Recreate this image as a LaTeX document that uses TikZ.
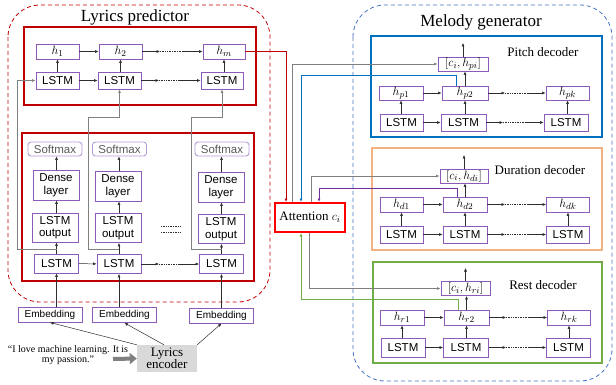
\documentclass[tikz,border=0pt]{standalone}
\usepackage{fontspec}
\setmainfont{Liberation Serif}
\setsansfont{Liberation Sans}
\usetikzlibrary{arrows.meta,calc}
\definecolor{pur}{RGB}{140,90,185}
\definecolor{lpur}{RGB}{180,155,215}
\definecolor{dred}{RGB}{192,0,0}
\definecolor{bblue}{RGB}{0,112,192}
\definecolor{dblue}{RGB}{68,114,196}
\definecolor{oran}{RGB}{244,177,131}
\definecolor{grn}{RGB}{112,173,71}
\definecolor{lgray}{RGB}{128,128,128}
\definecolor{encg}{RGB}{217,217,217}
\definecolor{arrc}{RGB}{45,45,45}
\definecolor{mpur}{RGB}{112,48,160}
\definecolor{smtxt}{RGB}{90,90,90}
\tikzset{
  bx/.style={draw=pur, line width=0.9pt, inner sep=0pt, align=center, font=\sffamily\fontsize{11.5}{12}\selectfont},
  hb/.style={draw=pur, line width=0.9pt, inner sep=0pt, minimum height=15pt, font=\fontsize{12.5}{13}\selectfont},
  smx/.style={draw=lpur, line width=0.9pt, rounded corners=3pt, inner sep=0pt, text=smtxt, minimum width=54pt, minimum height=14pt, font=\sffamily\fontsize{11.5}{12}\selectfont},
  emb/.style={bx, minimum width=64pt, minimum height=15pt, font=\sffamily\fontsize{10}{11}\selectfont},
  tip/.style={-{Latex[length=3.5pt,width=3pt]}},
  ar/.style={arrc, line width=0.5pt, tip},
  gl/.style={lgray, line width=0.8pt, tip},
  dts/.style={arrc, densely dotted, line width=0.7pt},
  ttl/.style={font=\fontsize{13}{14}\selectfont},
  grp/.style={line width=0.8pt, dash pattern=on 4pt off 3pt, rounded corners=32pt},
}
\begin{document}
\begin{tikzpicture}[x=1pt,y=-1pt]
\useasboundingbox (0,0) rectangle (616,385);

% ===== Lyrics predictor =====
\draw[grp, dred] (8,5) rectangle (270,302);
\node[font=\fontsize{17}{18}\selectfont] (lpt) at (135,17) {Lyrics predictor};
\node[draw=dred, line width=2pt, minimum width=232pt, minimum height=78pt, inner sep=0pt] (upbox) at (140,66) {};
\node[draw=dred, line width=2pt, minimum width=232pt, minimum height=148pt, inner sep=0pt] (lowbox) at (138,207) {};

% top row
\node[hb, minimum width=43pt] (h1) at (57.5,51.5) {$h_1$};
\node[hb, minimum width=43pt] (h2) at (120.5,51.5) {$h_2$};
\node[hb, minimum width=42pt] (hm) at (224,51.5) {$h_m$};
\node[bx, minimum width=43pt, minimum height=17pt] (t1) at (57.5,80.5) {LSTM};
\node[bx, minimum width=43pt, minimum height=17pt] (t2) at (119.5,80.5) {LSTM};
\node[bx, minimum width=42pt, minimum height=17pt] (t3) at (222,80.5) {LSTM};
\draw[ar] (t1) -- (h1);
\draw[ar] (t2.north -| h2) -- (h2);
\draw[ar] (t3.north -| hm) -- (hm);
\draw[ar] (h1) -- (h2);
\coordinate (hd1) at (160,51.5); \coordinate (hd2) at (182,51.5);
\draw[ar] (h2.east) -- (hd1); \draw[dts] (hd1) -- (hd2); \draw[ar] (hd2) -- (hm.west);
\draw[ar] (t1) -- (t2);
\coordinate (td1) at (159,80.5); \coordinate (td2) at (180,80.5);
\draw[ar] (t2.east) -- (td1); \draw[dts] (td1) -- (td2); \draw[ar] (td2) -- (t3.west);

% lower columns
\node[smx] (s1) at (55,149) {Softmax};
\node[smx] (s2) at (119.5,149) {Softmax};
\node[smx] (s3) at (222,149) {Softmax};
\node[bx, minimum width=46pt, minimum height=30pt, font=\sffamily\fontsize{11.5}{12.5}\selectfont] (d1) at (56,185) {Dense\\layer};
\node[bx, minimum width=46pt, minimum height=30pt, font=\sffamily\fontsize{11.5}{12.5}\selectfont] (d2) at (118,186) {Dense\\layer};
\node[bx, minimum width=46pt, minimum height=30pt, font=\sffamily\fontsize{11.5}{12.5}\selectfont] (d3) at (221,187) {Dense\\layer};
\node[bx, minimum width=46pt, minimum height=29pt, font=\sffamily\fontsize{11.5}{12.5}\selectfont] (o1) at (55,227.5) {LSTM\\output};
\node[bx, minimum width=46pt, minimum height=29pt, font=\sffamily\fontsize{11.5}{12.5}\selectfont] (o2) at (118,228) {LSTM\\output};
\node[bx, minimum width=46pt, minimum height=29pt, font=\sffamily\fontsize{11.5}{12.5}\selectfont] (o3) at (221,229) {LSTM\\output};
\node[bx, minimum width=44pt, minimum height=19pt] (b1) at (56.5,263.5) {LSTM};
\node[bx, minimum width=44pt, minimum height=19pt] (b2) at (119,264) {LSTM};
\node[bx, minimum width=44pt, minimum height=19pt] (b3) at (221.5,264) {LSTM};
\foreach \i in {1,2,3}{
  \draw[ar] (b\i.north) -- (b\i.north |- o\i.south);
  \draw[ar] (o\i.north -| b\i) -- (b\i |- d\i.south);
  \draw[ar] (d\i.north -| b\i) -- (b\i |- s\i.south);
}
\draw[ar] (b1) -- (b2);
\coordinate (bd1) at (159,264); \coordinate (bd2) at (180,264);
\draw[ar] (b2.east) -- (bd1); \draw[dts] (bd1) -- (bd2); \draw[ar] (bd2) -- (b3.west);
\draw[dts] (161,226) -- (180,226);
\draw[dts] (161,232) -- (180,232);

% branches to upper LSTMs
\coordinate (j1) at (56.5,249); \coordinate (j2) at (119,249); \coordinate (j3) at (221.5,249);
\draw[gl] (j1) -| (17,80.5) -- (t1.west);
\draw[gl] (j2) -| (88,117) -| (t2.south);
\draw[gl] (j3) -| (191,117) -| (t3.south);

% embeddings and encoder
\node[emb] (e1) at (50,314.5) {Embedding};
\node[emb] (e2) at (124.5,315) {Embedding};
\node[emb] (e3) at (221.5,315.5) {Embedding};
\foreach \i in {1,2,3}{ \draw[ar] (e\i.north -| b\i) -- (b\i.south); }
\node[fill=encg, minimum width=60pt, minimum height=27pt, inner sep=0pt, align=center, font=\fontsize{13}{12}\selectfont] (enc) at (167,358.5) {Lyrics\\encoder};
\draw[ar] (enc.north west) -- (e1.south);
\draw[ar] ($(enc.north west)!0.45!(enc.north east)$) -- (e2.south);
\draw[ar] (enc.north east) -- (e3.south);
\node[align=center, font=\fontsize{10}{9.5}\selectfont] (q) at (68,355) {“I love machine learning. It is\\my passion.”};
\coordinate (qa) at (113,359);
\draw[lgray, line width=4pt, -{Triangle[length=7pt,width=11pt]}] (qa) -- (enc.west);

% ===== Attention =====
\node[draw=red, line width=2pt, minimum width=70pt, minimum height=29pt, inner sep=0pt, font=\fontsize{13}{14}\selectfont] (att) at (310,217.5) {Attention $c_i$};

% ===== Melody generator =====
\draw[grp, dblue] (353,5) rectangle (612,381);
\node[font=\fontsize{17}{18}\selectfont] (mgt) at (481,22) {Melody generator};

% Pitch decoder
\node[draw=bblue, line width=2pt, minimum width=231pt, minimum height=101pt, inner sep=0pt] (pbox) at (486.5,86.5) {};
\node[ttl] (pt) at (543,52) {Pitch decoder};
\node[hb, minimum width=50pt, minimum height=14pt] (cph) at (463,64) {$[c_i,h_{pi}]$};
\node[hb, minimum width=44pt, minimum height=14pt] (hp1) at (401,93) {$h_{p1}$};
\node[hb, minimum width=46pt, minimum height=14pt] (hp2) at (465,93) {$h_{p2}$};
\node[hb, minimum width=43pt, minimum height=14pt] (hpk) at (567.5,93) {$h_{pk}$};
\node[bx, minimum width=43pt, minimum height=17pt] (lp1) at (401.5,122.5) {LSTM};
\node[bx, minimum width=45pt, minimum height=17pt] (lp2) at (463.5,122.5) {LSTM};
\node[bx, minimum width=44pt, minimum height=17pt] (lpk) at (566,122.5) {LSTM};
\coordinate (po) at (463,43);

% Duration decoder
\node[draw=oran, line width=2pt, minimum width=230pt, minimum height=102pt, inner sep=0pt] (dbox) at (487,199) {};
\node[ttl] (dt) at (540,170) {Duration decoder};
\node[hb, minimum width=48pt, minimum height=14pt] (cdh) at (464,176) {$[c_i,h_{di}]$};
\node[hb, minimum width=43pt] (hd1n) at (401.5,204.5) {$h_{d1}$};
\node[hb, minimum width=44pt] (hd2n) at (465,204.5) {$h_{d2}$};
\node[hb, minimum width=43pt] (hdk) at (568,204.5) {$h_{dk}$};
\node[bx, minimum width=43pt, minimum height=17pt] (ld1) at (401.5,234.5) {LSTM};
\node[bx, minimum width=44pt, minimum height=17pt] (ld2) at (465,234.5) {LSTM};
\node[bx, minimum width=43pt, minimum height=17pt] (ldk) at (568,234.5) {LSTM};
\coordinate (do) at (464,155);

% Rest decoder
\node[draw=grn, line width=2pt, minimum width=229pt, minimum height=101pt, inner sep=0pt] (rbox) at (487.5,312.5) {};
\node[ttl] (rt) at (543,285) {Rest decoder};
\node[hb, minimum width=49pt, minimum height=14pt] (crh) at (465.5,288.5) {$[c_i,h_{ri}]$};
\node[hb, minimum width=44pt] (hr1) at (402,317.5) {$h_{r1}$};
\node[hb, minimum width=45pt] (hr2) at (466.5,317.5) {$h_{r2}$};
\node[hb, minimum width=43pt] (hrk) at (569,317.5) {$h_{rk}$};
\node[bx, minimum width=44pt, minimum height=19pt] (lr1) at (403,347.5) {LSTM};
\node[bx, minimum width=45pt, minimum height=19pt] (lr2) at (466,347.5) {LSTM};
\node[bx, minimum width=44pt, minimum height=19pt] (lrk) at (568.5,347.5) {LSTM};
\coordinate (ro) at (465.5,268);

% pitch
\draw[ar] (lp1.north -| hp1) -- (hp1.south);
\draw[ar] (lp2.north -| hp2) -- (hp2.south);
\draw[ar] (lpk.north -| hpk) -- (hpk.south);
\draw[ar] (hp1) -- (hp2);
\coordinate (pa1) at (505,93); \coordinate (pa2) at (527,93);
\draw[ar] (hp2.east) -- (pa1); \draw[dts] (pa1) -- (pa2); \draw[ar] (pa2) -- (hpk.west);
\draw[ar] (lp1) -- (lp2);
\coordinate (pb1) at (503,122.5); \coordinate (pb2) at (525,122.5);
\draw[ar] (lp2.east) -- (pb1); \draw[dts] (pb1) -- (pb2); \draw[ar] (pb2) -- (lpk.west);
\draw[ar] (hp2.north) -- (hp2.north |- cph.south);
\draw[ar] (cph.north) -- (po);
% duration
\draw[ar] (ld1.north) -- (hd1n.south);
\draw[ar] (ld2.north) -- (hd2n.south);
\draw[ar] (ldk.north) -- (hdk.south);
\draw[ar] (hd1n) -- (hd2n);
\coordinate (da1) at (505,204.5); \coordinate (da2) at (527,204.5);
\draw[ar] (hd2n.east) -- (da1); \draw[dts] (da1) -- (da2); \draw[ar] (da2) -- (hdk.west);
\draw[ar] (ld1) -- (ld2);
\coordinate (db1) at (505,234.5); \coordinate (db2) at (527,234.5);
\draw[ar] (ld2.east) -- (db1); \draw[dts] (db1) -- (db2); \draw[ar] (db2) -- (ldk.west);
\draw[ar] (hd2n.north) -- (hd2n.north |- cdh.south);
\draw[ar] (cdh.north) -- (do);
% rest
\draw[ar] (lr1.north -| hr1) -- (hr1.south);
\draw[ar] (lr2.north -| hr2) -- (hr2.south);
\draw[ar] (lrk.north -| hrk) -- (hrk.south);
\draw[ar] (hr1) -- (hr2);
\coordinate (ra1) at (506,317.5); \coordinate (ra2) at (528,317.5);
\draw[ar] (hr2.east) -- (ra1); \draw[dts] (ra1) -- (ra2); \draw[ar] (ra2) -- (hrk.west);
\draw[ar] (lr1) -- (lr2);
\coordinate (rb1) at (506,347.5); \coordinate (rb2) at (528,347.5);
\draw[ar] (lr2.east) -- (rb1); \draw[dts] (rb1) -- (rb2); \draw[ar] (rb2) -- (lrk.west);
\draw[ar] (hr2.north) -- (hr2.north |- crh.south);
\draw[ar] (crh.north) -- (ro);

% ===== connections to/from attention =====
\draw[dred, line width=0.9pt, tip] (hm.east) -| ($(att.north west)+(12,0)$);
\draw[gl] ($(att.north west)+(18,0)$) |- (cph.west);
\draw[bblue, line width=0.9pt, tip] ($(hp2.north west)+(15,0)$) -- ++(0,-10) -| ($(att.north west)+(27,0)$);
\draw[gl] ($(att.north west)+(37,0)$) |- (cdh.west);
\draw[mpur, line width=0.9pt, tip] ($(hd2n.north west)+(15,0)$) -- ++(0,-8) -| ($(att.north west)+(45,0)$);
\draw[gl] ($(att.south west)+(35,0)$) |- (crh.west);
\draw[grn, line width=0.9pt, tip] ($(hr2.north west)+(15,0)$) -- ++(0,-10) -| ($(att.south west)+(27,0)$);
\end{tikzpicture}
\end{document}
